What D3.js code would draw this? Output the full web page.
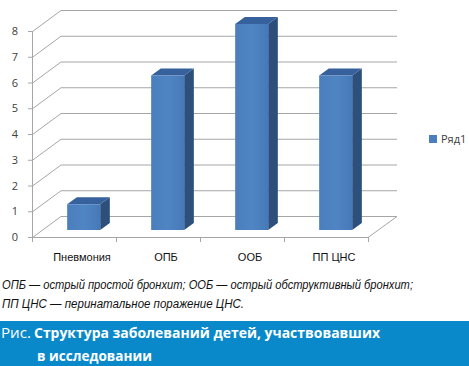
<!DOCTYPE html>
<html>
<head>
<meta charset="utf-8">
<script src="https://cdn.jsdelivr.net/npm/d3@7"></script>
<style>
  body { margin: 0; background: #fff; }
  svg { display: block; }
</style>
</head>
<body>
<svg id="chart" width="469" height="366"></svg>
<script>
var categories = ["Пневмония", "ОПБ", "ООБ", "ПП ЦНС"];
var values = [1, 6, 8, 6];
var yTicks = [0, 1, 2, 3, 4, 5, 6, 7, 8];
var seriesName = "Ряд1";
var noteLines = [
  "ОПБ — острый простой бронхит; ООБ — острый обструктивный бронхит;",
  "ПП ЦНС — перинатальное поражение ЦНС."
];
var captionLabel = "Рис.";
var captionLines = ["Структура заболеваний детей, участвовавших", "в исследовании"];

var svg = d3.select("#chart");
var W = 469, H = 366;

// front plane of the 3d box and depth offset
var x0 = 32, x1 = 368, yBottom = 237, yTop = 31;
var depthX = 29, depthY = -21;

var x = d3.scaleBand().domain(categories).range([x0, x1]).paddingInner(0.607).paddingOuter(0.3035);
var y = d3.scaleLinear().domain([0, 8]).range([yBottom, yTop]);

var gridColor = "#a6a6a6";
var grid = svg.append("g").attr("stroke", gridColor).attr("stroke-width", 1).attr("fill", "none");

// back wall lines + side wall diagonals
yTicks.forEach(function(v) {
  var yb = y(v) + depthY;
  grid.append("line")
    .attr("x1", x0 + depthX).attr("y1", yb + 0.5)
    .attr("x2", x1 + depthX).attr("y2", yb + 0.5);
  grid.append("line")
    .attr("x1", x0 + 0.5).attr("y1", y(v) + 0.5)
    .attr("x2", x0 + depthX).attr("y2", yb + 0.5);
});
// floor right edge
grid.append("line")
  .attr("x1", x1 + depthX).attr("y1", yBottom + depthY + 0.5)
  .attr("x2", x1).attr("y2", yBottom + 0.5);
// axes
grid.append("line").attr("x1", x0 + 0.5).attr("y1", yTop).attr("x2", x0 + 0.5).attr("y2", yBottom + 0.5);
grid.append("line").attr("x1", x0).attr("y1", yBottom + 0.5).attr("x2", x1).attr("y2", yBottom + 0.5);
yTicks.forEach(function(v) {
  grid.append("line").attr("x1", x0 - 4).attr("y1", y(v) + 0.5).attr("x2", x0).attr("y2", y(v) + 0.5);
});
var xTickPos = [x0].concat(categories.map(function(c) { return x(c) - x.step() * x.paddingInner() / 2 + x.step(); }));
xTickPos.forEach(function(p) {
  grid.append("line").attr("x1", Math.round(p) + 0.5).attr("y1", yBottom).attr("x2", Math.round(p) + 0.5).attr("y2", yBottom + 5);
});

// y tick labels
svg.append("g").selectAll("text")
  .data(yTicks).enter().append("text")
  .attr("x", 18).attr("y", function(d) { return y(d) + 4; })
  .attr("text-anchor", "end")
  .attr("font-family", "'Open Sans', 'DejaVu Sans', sans-serif")
  .attr("font-size", 11)
  .attr("fill", "#404040")
  .text(function(d) { return d; });

// bars, placed between 1/3 and 2/3 of the depth
var f0 = 1 / 3, f1 = 2 / 3;
var defs = svg.append("defs");
var grad = defs.append("linearGradient").attr("id", "frontGrad").attr("x1", 0).attr("x2", 1).attr("y1", 0).attr("y2", 0);
grad.append("stop").attr("offset", "0").attr("stop-color", "#4a7ebd");
grad.append("stop").attr("offset", "0.5").attr("stop-color", "#5085c3");
grad.append("stop").attr("offset", "1").attr("stop-color", "#4679b8");

var bars = svg.append("g");
categories.forEach(function(c, i) {
  var bx = x(c) + depthX * f0, bw = x.bandwidth();
  var by = y(values[i]) + depthY * f0, bb = y(0) + depthY * f0;
  var dx = depthX * (f1 - f0), dy = depthY * (f1 - f0);
  bars.append("path")
    .attr("d", "M" + (bx + bw) + "," + by + " L" + (bx + bw + dx) + "," + (by + dy) +
      " L" + (bx + bw + dx) + "," + (bb + dy) + " L" + (bx + bw) + "," + bb + "Z")
    .attr("fill", "#2d4f7c");
  bars.append("path")
    .attr("d", "M" + bx + "," + by + " L" + (bx + dx) + "," + (by + dy) +
      " L" + (bx + bw + dx) + "," + (by + dy) + " L" + (bx + bw) + "," + by + "Z")
    .attr("fill", "#36619c");
  bars.append("rect")
    .attr("x", bx).attr("y", by).attr("width", bw).attr("height", bb - by)
    .attr("fill", "url(#frontGrad)");
});

// category labels
svg.append("g").selectAll("text")
  .data(categories).enter().append("text")
  .attr("x", function(d) { return x(d) + x.bandwidth() / 2 + 8; })
  .attr("y", 261)
  .attr("text-anchor", "middle")
  .attr("font-family", "'Liberation Sans Narrow', 'Arial Narrow', sans-serif")
  .attr("font-size", 11)
  .attr("fill", "#111")
  .text(function(d) { return d; });

// legend
svg.append("rect").attr("x", 429).attr("y", 135).attr("width", 8).attr("height", 8).attr("fill", "#4a7ebd");
svg.append("text").attr("x", 441).attr("y", 143)
  .attr("font-family", "'Open Sans', 'DejaVu Sans', sans-serif")
  .attr("font-size", 11).attr("fill", "#404040")
  .text(seriesName);

// footnote
var noteLen = [411, 242];
svg.append("g").selectAll("text")
  .data(noteLines).enter().append("text")
  .attr("x", 2).attr("y", function(d, i) { return 289 + i * 19; })
  .attr("font-family", "'Liberation Sans Narrow', 'Arial Narrow', sans-serif")
  .attr("font-style", "italic")
  .attr("font-size", 12)
  .attr("fill", "#111")
  .attr("textLength", function(d, i) { return noteLen[i]; })
  .attr("lengthAdjust", "spacingAndGlyphs")
  .text(function(d) { return d; });

// caption banner
svg.append("rect").attr("x", 0).attr("y", 321).attr("width", W).attr("height", H - 321).attr("fill", "#0a89ca");
svg.append("text").attr("x", 1).attr("y", 338)
  .attr("font-family", "'Liberation Sans Narrow', 'Open Sans', sans-serif")
  .attr("font-size", 15).attr("fill", "#fff")
  .attr("textLength", 30).attr("lengthAdjust", "spacingAndGlyphs")
  .text(captionLabel);
var capLen = [346, 115];
svg.append("g").selectAll("text")
  .data(captionLines).enter().append("text")
  .attr("x", function(d, i) { return i == 0 ? 34 : 37; })
  .attr("y", function(d, i) { return 338 + i * 23; })
  .attr("font-family", "'Liberation Sans Narrow', 'Open Sans', sans-serif")
  .attr("font-weight", "bold")
  .attr("font-size", 15)
  .attr("fill", "#fff")
  .attr("textLength", function(d, i) { return capLen[i]; })
  .attr("lengthAdjust", "spacingAndGlyphs")
  .text(function(d) { return d; });
</script>
</body>
</html>
